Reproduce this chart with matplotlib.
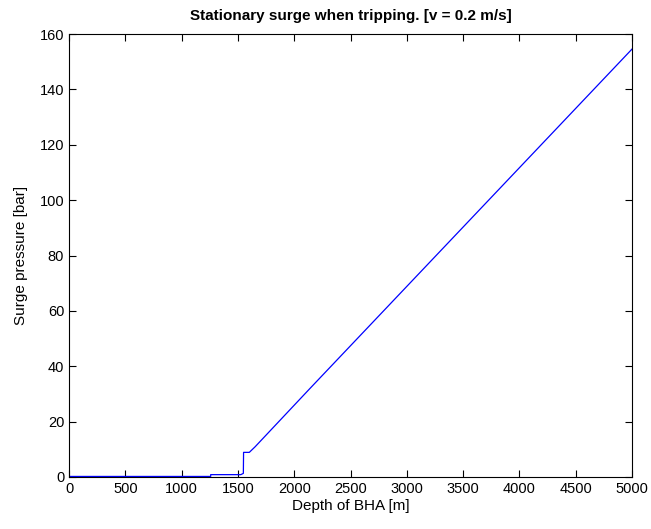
import numpy as np
import matplotlib
matplotlib.use('Agg')
import matplotlib.pyplot as plt

plt.rcParams['font.family'] = ['Liberation Sans', 'DejaVu Sans']

# surge pressure vs depth of BHA
depth = [0, 1258, 1258, 1525, 1548, 1550, 1601, 1652, 2140, 5000]
surge = [0.2, 0.2, 0.85, 0.85, 1.3, 8.9, 8.9, 10.9, 32.0, 154.6]

xticks = np.arange(0, 5001, 500)
yticks = np.arange(0, 161, 20)

fig = plt.figure(figsize=(6.51, 5.29), dpi=100)
ax = fig.add_axes([0.106, 0.0983, 0.865, 0.8374])
ax.plot(depth, surge, color='blue', lw=0.9)

ax.set_xlim(0, 5000)
ax.set_ylim(0, 160)
ax.set_xticks(xticks)
ax.set_yticks(yticks)
ax.tick_params(direction='in', top=True, right=True, labelsize=10.5, length=5)
ax.set_xlabel('Depth of BHA [m]', fontsize=11, labelpad=2)
ax.set_ylabel('Surge pressure [bar]', fontsize=11, labelpad=8)
ax.set_title('Stationary surge when tripping. [v = 0.2 m/s]', fontsize=11, fontweight='bold', pad=10)

plt.savefig('out.png', dpi=100)
